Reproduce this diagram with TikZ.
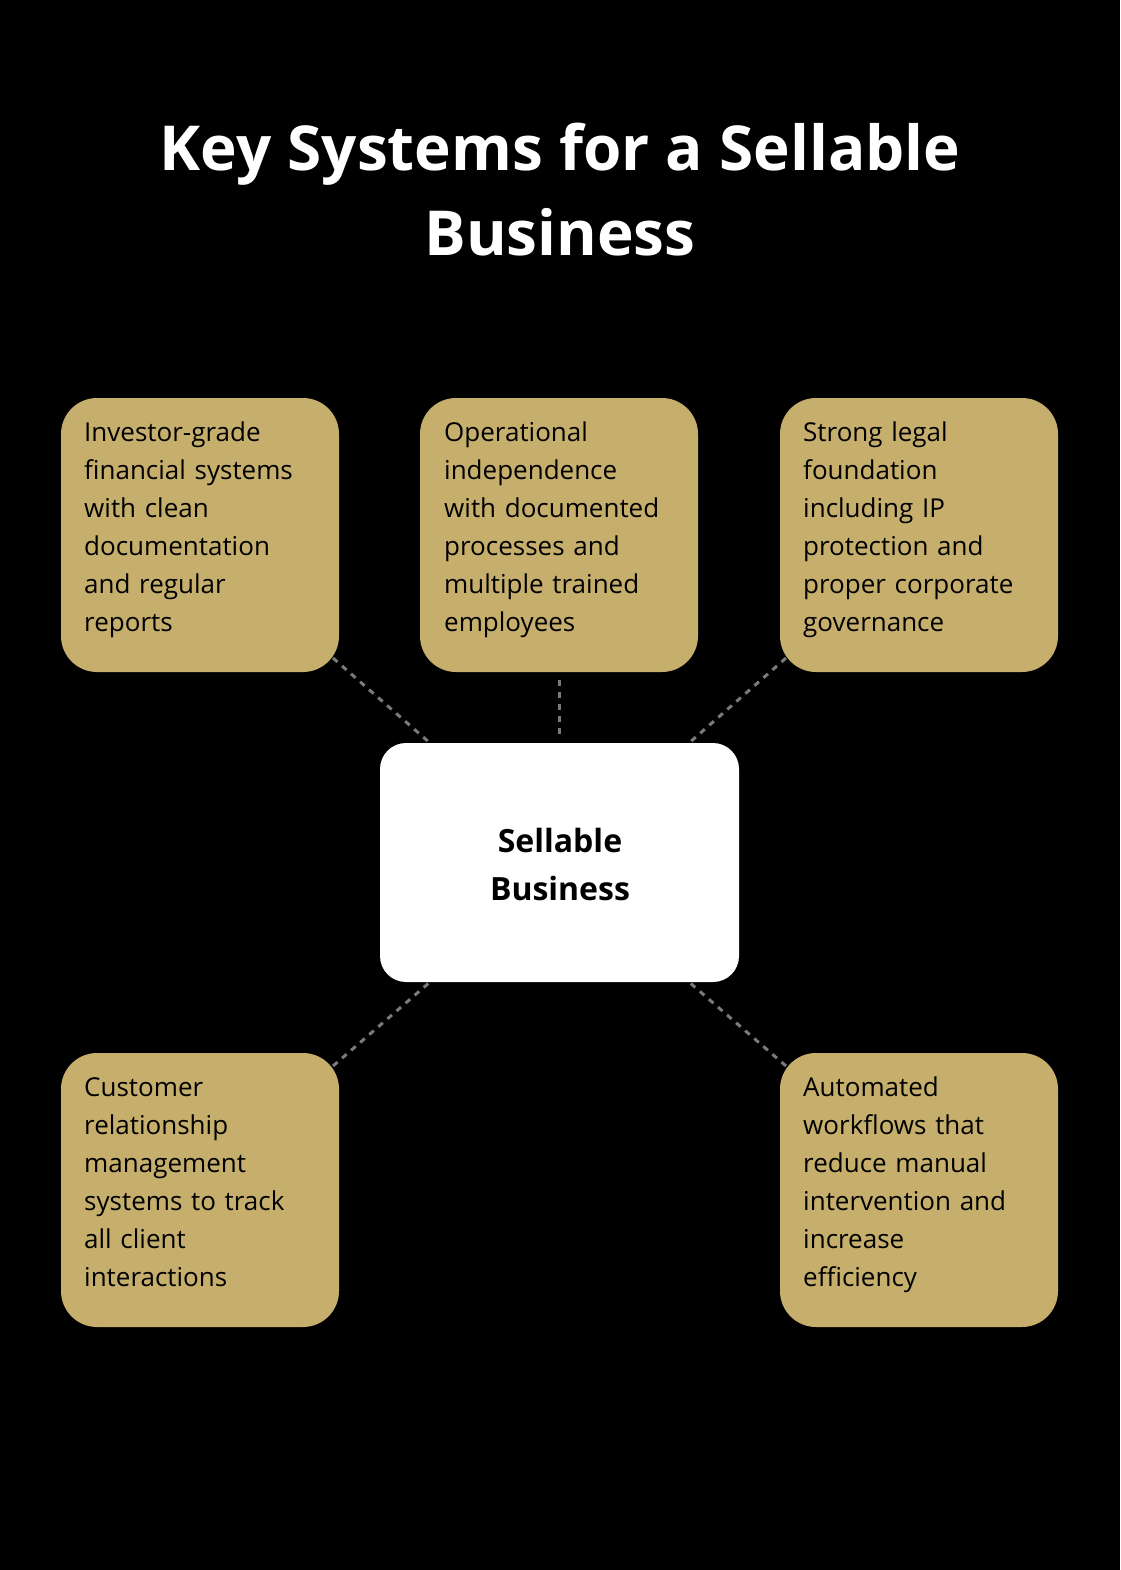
\documentclass[tikz,border=0pt]{standalone}
\usepackage{fontspec}
\setmainfont{Open Sans}
\definecolor{gold}{HTML}{C6AF6C}
\definecolor{dash}{HTML}{7A7A7A}
\begin{document}
\begin{tikzpicture}[x=1pt,y=-1pt,
  goldbox/.style={fill=gold,rounded corners=36pt},
  btext/.style={anchor=north west,inner sep=0pt,align=left,text width=270pt,font=\fontsize{26}{38}\selectfont,text=black},
  conn/.style={draw=dash,dashed,line width=3pt,dash pattern=on 6pt off 6pt}]
\fill[black] (0,0) rectangle (1120,1570);
\useasboundingbox (0,0) rectangle (1120,1570);
\node[font=\fontsize{62}{85}\selectfont\bfseries,text=white,align=center] (title) at (560,190) {Key Systems for a Sellable\\Business};
\fill[goldbox] (61,398) rectangle (339,672);
\fill[goldbox] (420,398) rectangle (698,672);
\fill[goldbox] (780,398) rectangle (1058,672);
\fill[goldbox] (61,1053) rectangle (339,1327);
\fill[goldbox] (780,1053) rectangle (1058,1327);
\fill[white,rounded corners=26pt] (380,743) rectangle (739,982);
\node[btext] (t1) at (84,422) {Investor-grade\\financial systems\\with clean\\documentation\\and regular\\reports};
\node[btext] (t2) at (444,422) {Operational\\independence\\with documented\\processes and\\multiple trained\\employees};
\node[btext] (t3) at (803,422) {Strong legal\\foundation\\including IP\\protection and\\proper corporate\\governance};
\node[btext] (t4) at (84,1077) {Customer\\relationship\\management\\systems to track\\all client\\interactions};
\node[btext] (t5) at (803,1077) {Automated\\workflows that\\reduce manual\\intervention and\\increase\\efficiency};
\node[font=\fontsize{32}{48}\selectfont\bfseries,align=center] (c) at (560,864) {Sellable\\Business};
\coordinate (a1) at (333,658); \coordinate (b1) at (430,743);
\coordinate (a2) at (559,680); \coordinate (b2) at (559,738);
\coordinate (a3) at (786,658); \coordinate (b3) at (689,743);
\coordinate (a4) at (333,1066); \coordinate (b4) at (430,982);
\coordinate (a5) at (786,1066); \coordinate (b5) at (689,982);
\foreach \i in {1,...,5}{\draw[conn] (a\i) -- (b\i);}
\end{tikzpicture}
\end{document}
